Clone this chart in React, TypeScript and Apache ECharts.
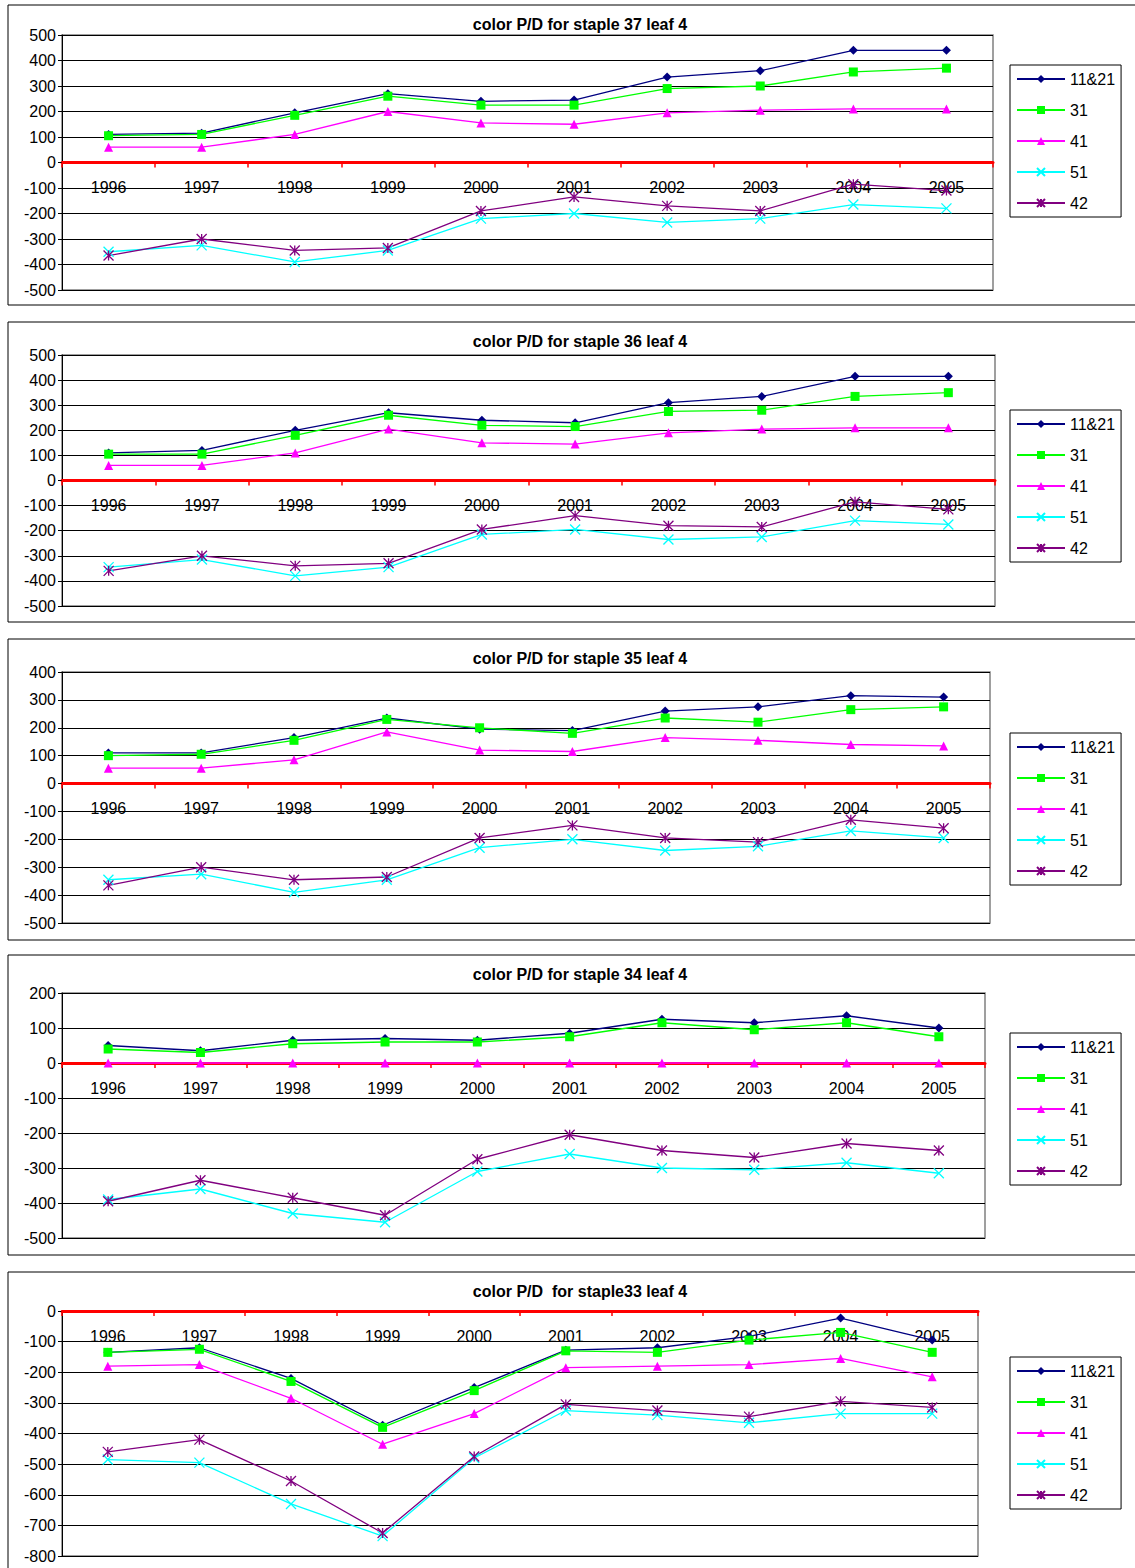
import { useEffect, useRef } from 'react';
import * as echarts from 'echarts';

const years = ['1996', '1997', '1998', '1999', '2000', '2001', '2002', '2003', '2004', '2005'];
const names = ['11&21', '31', '41', '51', '42'];
const titles = [
  'color P/D for staple 37 leaf 4',
  'color P/D for staple 36 leaf 4',
  'color P/D for staple 35 leaf 4',
  'color P/D for staple 34 leaf 4',
  'color P/D  for staple33 leaf 4',
];

const s37 = [
  [110, 115, 195, 270, 240, 245, 335, 360, 440, 440],
  [105, 110, 185, 260, 225, 225, 290, 300, 355, 370],
  [60, 60, 110, 200, 155, 150, 195, 205, 210, 210],
  [-350, -325, -390, -345, -220, -200, -235, -220, -165, -180],
  [-365, -300, -345, -335, -190, -135, -170, -190, -85, -110],
];
const s36 = [
  [110, 120, 200, 270, 240, 230, 310, 335, 415, 415],
  [105, 105, 180, 260, 220, 215, 275, 280, 335, 350],
  [60, 60, 110, 205, 150, 145, 190, 205, 210, 210],
  [-345, -315, -380, -345, -215, -195, -235, -225, -160, -175],
  [-360, -300, -340, -330, -195, -140, -180, -185, -85, -115],
];
const s35 = [
  [110, 110, 165, 235, 195, 190, 260, 275, 315, 310],
  [100, 105, 155, 230, 200, 180, 235, 220, 265, 275],
  [55, 55, 85, 185, 120, 115, 165, 155, 140, 135],
  [-345, -325, -390, -345, -230, -200, -240, -225, -170, -195],
  [-365, -300, -345, -335, -195, -150, -195, -210, -130, -160],
];
const s34 = [
  [50, 35, 65, 70, 65, 85, 125, 115, 135, 100],
  [40, 30, 55, 60, 60, 75, 115, 95, 115, 75],
  [0, 0, 0, 0, 0, 0, 0, 0, 0, 0],
  [-390, -360, -430, -455, -310, -260, -300, -305, -285, -315],
  [-395, -335, -385, -435, -275, -205, -250, -270, -230, -250],
];
const s33 = [
  [-135, -120, -220, -373, -250, -128, -120, -83, -23, -95],
  [-135, -125, -230, -380, -260, -130, -135, -95, -70, -135],
  [-180, -175, -285, -435, -335, -185, -180, -175, -155, -215],
  [-485, -495, -630, -735, -480, -325, -340, -365, -335, -335],
  [-460, -420, -555, -725, -475, -305, -325, -345, -295, -315],
];
const allData = [s37, s36, s35, s34, s33];
const yMin = [-500, -500, -500, -500, -800];
const yMax = [500, 500, 400, 200, 0];

const panels = [
  { py: 5, ph: 300, top: 35, bottom: 290, right: 993, leg: 65 },
  { py: 322, ph: 300, top: 355, bottom: 606, right: 995, leg: 410 },
  { py: 639, ph: 301, top: 672, bottom: 923, right: 990, leg: 733 },
  { py: 955, ph: 300, top: 993, bottom: 1238, right: 985, leg: 1033 },
  { py: 1272, ph: 300, top: 1311, bottom: 1556, right: 978, leg: 1357 },
];

const colors = ['#000080', '#00ff00', '#ff00ff', '#00ffff', '#800080'];
const symbols = [
  'diamond',
  'rect',
  'triangle',
  'path://M0,0L10,10M10,0L0,10',
  'path://M0,0L10,10M10,0L0,10M5,0L5,10',
];
const font = 'Liberation Sans, Arial, sans-serif';

export default function App() {
  const ref = useRef<HTMLDivElement>(null);

  useEffect(() => {
    if (!ref.current) return;
    const chart = echarts.init(ref.current, null, { renderer: 'svg' });

    const series: any[] = [];
    allData.forEach((d, p) => {
      d.forEach((vals, k) => {
        const stroke = k >= 3;
        series.push({
          type: 'line',
          name: names[k],
          xAxisIndex: p,
          yAxisIndex: p,
          data: vals,
          symbol: symbols[k],
          symbolSize: stroke ? 10 : 9,
          lineStyle: { color: colors[k], width: 1.3 },
          itemStyle: stroke
            ? { color: 'rgba(0,0,0,0)', borderColor: colors[k], borderWidth: 1.3 }
            : { color: colors[k] },
        });
      });
    });

    chart.setOption({
      animation: false,
      textStyle: { fontFamily: font },
      title: panels.map((pn, p) => ({
        text: titles[p],
        left: 575,
        textAlign: 'center',
        top: pn.py + 6,
        textStyle: { fontSize: 16, fontWeight: 'bold', color: '#000', fontFamily: font },
      })),
      legend: panels.map((pn) => ({
        data: names,
        orient: 'vertical',
        left: 1010,
        top: pn.leg,
        itemGap: 15,
        itemWidth: 48,
        itemHeight: 10,
        padding: [6, 6, 6, 6],
        borderColor: '#000',
        borderWidth: 1,
        borderRadius: 0,
        textStyle: { fontSize: 16, color: '#000', fontFamily: font },
      })),
      grid: panels.map((pn) => ({
        left: 62,
        width: pn.right - 62,
        top: pn.top,
        height: pn.bottom - pn.top,
        show: true,
        borderColor: '#808080',
        borderWidth: 1.5,
      })),
      xAxis: panels.map((pn, p) => {
        const h = pn.bottom - pn.top;
        const zeroY = pn.top + (yMax[p] / (yMax[p] - yMin[p])) * h;
        return {
          type: 'category',
          gridIndex: p,
          data: years,
          position: 'bottom',
          offset: -(pn.bottom - zeroY),
          axisLine: { onZero: false, lineStyle: { color: '#ff0000', width: 3 } },
          axisTick: { show: true, length: 5, lineStyle: { color: '#ff0000', width: 1.5 } },
          axisLabel: { color: '#000', fontSize: 16, margin: 17, fontFamily: font },
        };
      }),
      yAxis: panels.map((_, p) => ({
        type: 'value',
        gridIndex: p,
        min: yMin[p],
        max: yMax[p],
        interval: 100,
        axisLine: { show: true, lineStyle: { color: '#000' } },
        axisTick: { show: true, length: 4 },
        splitLine: { lineStyle: { color: '#000', width: 1 } },
        axisLabel: { color: '#000', fontSize: 16, margin: 6, fontFamily: font },
      })),
      graphic: panels.map((pn) => ({
        type: 'rect',
        shape: { x: 8, y: pn.py, width: 1140, height: pn.ph },
        style: { fill: 'none', stroke: '#000', lineWidth: 1 },
        silent: true,
      })),
      series,
    });

    return () => chart.dispose();
  }, []);

  return (
    <div
      ref={ref}
      style={{ position: 'absolute', left: 0, top: 0, width: 1135, height: 1568, background: '#fff' }}
    />
  );
}
